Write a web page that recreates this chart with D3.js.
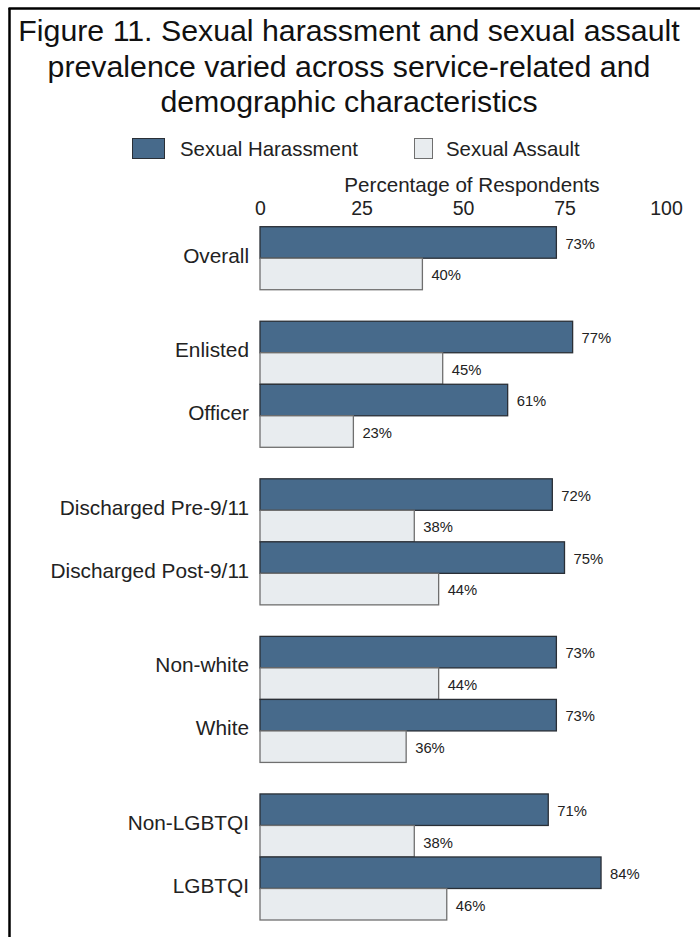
<!DOCTYPE html>
<html>
<head>
<meta charset="utf-8">
<script src="https://cdn.jsdelivr.net/npm/d3@7"></script>
<style>
  html, body { margin: 0; padding: 0; background: #fff; }
  svg { display: block; font-family: "Liberation Sans", Arial, Helvetica, sans-serif; }
</style>
</head>
<body>
<svg id="chart" width="700" height="937"></svg>
<script>
// Rows of the chart, in drawing order; a group break is left between sections
const categories = ["Overall", "Enlisted", "Officer", "Discharged Pre-9/11", "Discharged Post-9/11",
                    "Non-white", "White", "Non-LGBTQI", "LGBTQI"];
const sectionOf = [0, 1, 1, 2, 2, 3, 3, 4, 4];
const harassment = [73, 77, 61, 72, 75, 73, 73, 71, 84];
const assault = [40, 45, 23, 38, 44, 44, 36, 38, 46];
const seriesNames = ["Sexual Harassment", "Sexual Assault"];
const tickValues = [0, 25, 50, 75, 100];
const titleLines = ["Figure 11. Sexual harassment and sexual assault",
                    "prevalence varied across service-related and",
                    "demographic characteristics"];
const axisTitle = "Percentage of Respondents";

const colors = { fill: ["#476a8b", "#e8ecef"], stroke: ["#2a2f36", "#6f6f6f"] };

const svg = d3.select("#chart");

// Frame: top and left rules
svg.append("line").attr("x1", 8.5).attr("x2", 700).attr("y1", 8.5).attr("y2", 8.5)
  .attr("stroke", "#000").attr("stroke-width", 2.5);
svg.append("line").attr("x1", 9.5).attr("x2", 9.5).attr("y1", 8).attr("y2", 937)
  .attr("stroke", "#000").attr("stroke-width", 2.5);

// Title
svg.append("g").selectAll("text").data(titleLines).join("text")
  .attr("x", 349).attr("y", (d, i) => 41 + i * 35.5)
  .attr("text-anchor", "middle").attr("font-size", 30.3).attr("fill", "#111")
  .text(d => d);

// Legend
const legendItems = [{ x: 132, tx: 180 }, { x: 414, tx: 446 }];
const lg = svg.append("g");
legendItems.forEach((p, i) => {
  lg.append("rect").attr("x", p.x + 0.5).attr("y", 138.5).attr("width", i === 0 ? 32 : 18).attr("height", 20)
    .attr("fill", colors.fill[i]).attr("stroke", colors.stroke[i]).attr("stroke-width", 1);
  lg.append("text").attr("x", p.tx).attr("y", 155.5).attr("font-size", 20.4).attr("fill", "#222")
    .text(seriesNames[i]);
});

// Scales
const x = d3.scaleLinear().domain([0, 100]).range([260, 666]);
// Each bar takes one unit; one empty unit separates sections
const rowUnit = categories.map((c, i) => i * 2 + sectionOf[i]);
const y = d3.scaleLinear().domain([0, 22]).range([226.7, 920]);
const barH = y(1) - y(0);

// Axis on top, labels only
svg.append("text").attr("x", 472).attr("y", 192).attr("text-anchor", "middle")
  .attr("font-size", 20.6).attr("fill", "#222").text(axisTitle);
const axis = svg.append("g").attr("transform", "translate(0,200)")
  .call(d3.axisTop(x).tickValues(tickValues).tickSize(0).tickPadding(0).tickFormat(d3.format("d")));
axis.select(".domain").remove();
axis.selectAll("text").attr("font-size", 19.5).attr("fill", "#222")
  .attr("font-family", "'Liberation Sans', Arial, sans-serif").attr("dy", "0.75em")
  .attr("y", 0);

// Category labels
svg.append("g").selectAll("text").data(categories).join("text")
  .attr("x", 249).attr("y", (d, i) => y(rowUnit[i] + 1) - 3)
  .attr("dy", "0.36em").attr("text-anchor", "end")
  .attr("font-size", 20.8).attr("fill", "#222").text(d => d);

// Bars
const bars = [];
categories.forEach((c, i) => {
  bars.push({ s: 0, v: harassment[i], u: rowUnit[i] });
  bars.push({ s: 1, v: assault[i], u: rowUnit[i] + 1 });
});
svg.append("g").selectAll("rect").data(bars).join("rect")
  .attr("x", x(0)).attr("y", d => y(d.u))
  .attr("width", d => x(d.v) - x(0)).attr("height", barH)
  .attr("fill", d => colors.fill[d.s]).attr("stroke", d => colors.stroke[d.s]).attr("stroke-width", 1.3);

// Value labels
svg.append("g").selectAll("text").data(bars).join("text")
  .attr("x", d => x(d.v) + 9).attr("y", d => y(d.u) + barH / 2 + 1)
  .attr("dy", "0.36em").attr("font-size", 14.8).attr("fill", "#222")
  .text(d => d.v + "%");
</script>
</body>
</html>
